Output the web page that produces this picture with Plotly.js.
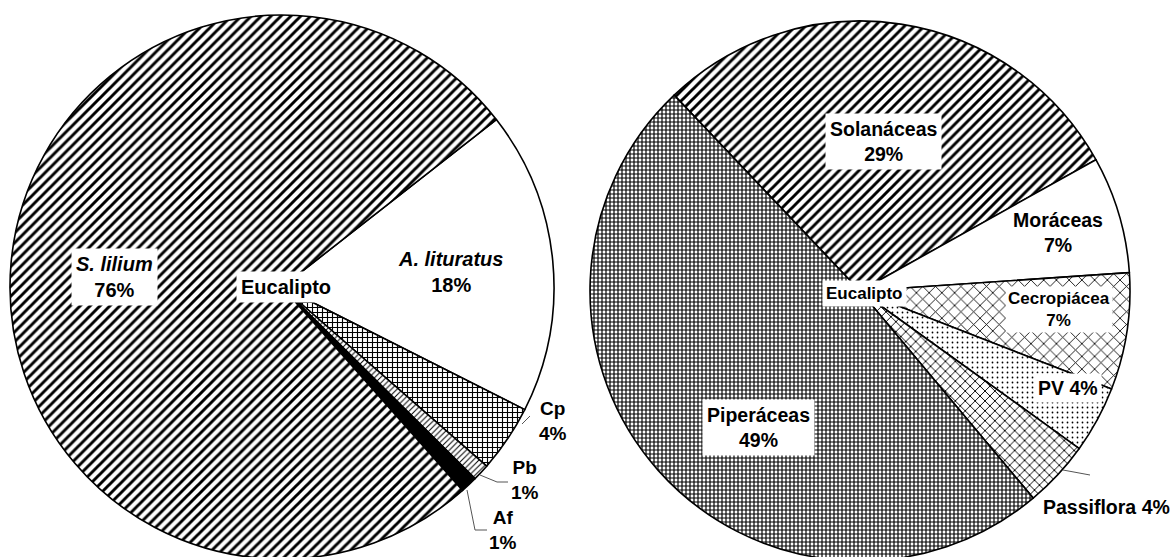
<!DOCTYPE html>
<html>
<head>
<meta charset="utf-8">
<script src="https://cdn.plot.ly/plotly-3.0.1.min.js"></script>
<style>
html,body{margin:0;padding:0;overflow:hidden;background:#fff;}
#chart{width:1172px;height:600px;}
</style>
</head>
<body>
<div id="chart"></div>
<script>
// ---- data ----
const centerTitle = 'Eucalipto';
const leftLabels = ['A. lituratus', 'Cp', 'Pb', 'Af', 'S. lilium'];
const leftValues = [18, 4, 1, 1, 76];
const leftItalic = [true, false, false, false, true];
const rightLabels = ['Solanáceas', 'Moráceas', 'Cecropiácea', 'PV', 'Passiflora', 'Piperáceas'];
const rightValues = [29, 7, 7, 4, 4, 49];

// ---- layout helpers (pixel -> paper) ----
const W = 1172, H = 600;
const px = x => x / W;
const py = y => 1 - y / H;

// label placement (pixel centres) and styling
const leftLabelPos = [[450, 272], [553, 421], [525, 480], [503, 530], [114, 277]];
const leftLabelBox = [false, false, false, false, true];
const leftLabelSize = [20, 19, 19, 19, 20];
const rightLabelPos = [[883, 141], [1058, 233], [1059, 309], [1068, 388], [1106, 507], [758, 427]];
const rightLabelBox = [true, false, true, true, false, true];
const rightLabelSize = [19.5, 19.5, 17, 19.5, 19.5, 19.5];
const rightLabelPad = [4, 0, 2, 3, 0, 4];
const rightOneLine = [false, false, false, true, true, false];

const lineStyle = {color: '#000', width: 1.6};

const leftPatterns = [
  {shape: ''},
  {shape: '+', size: 5, solidity: 0.4},
  {shape: '/', size: 4, solidity: 0.25},
  {shape: ''},
  {shape: '/', size: 7, solidity: 0.42}
];
const leftColors = ['#ffffff', '#ffffff', '#ffffff', '#000000', '#ffffff'];

const rightPatterns = [
  {shape: '/', size: 7, solidity: 0.42},
  {shape: ''},
  {shape: 'x', size: 9, solidity: 0.18},
  {shape: '.', size: 5, solidity: 0.1},
  {shape: 'x', size: 7, solidity: 0.25},
  {shape: '+', size: 4, solidity: 0.5}
];

const traces = [
  {
    type: 'pie', labels: leftLabels, values: leftValues, sort: false,
    direction: 'clockwise', rotation: 52, textinfo: 'none', hoverinfo: 'label+percent',
    domain: {x: [px(10), px(554)], y: [py(559), py(15)]},
    marker: {colors: leftColors, line: lineStyle,
      pattern: {
        shape: leftPatterns.map(p => p.shape),
        size: leftPatterns.map(p => p.size || 8),
        solidity: leftPatterns.map(p => p.solidity || 0.3),
        fgcolor: '#000', bgcolor: '#fff'
      }},
    showlegend: false
  },
  {
    type: 'pie', labels: rightLabels, values: rightValues, sort: false,
    direction: 'clockwise', rotation: 316.5, textinfo: 'none', hoverinfo: 'label+percent',
    domain: {x: [px(590), px(1130)], y: [py(561), py(21)]},
    marker: {colors: rightLabels.map(() => '#ffffff'), line: lineStyle,
      pattern: {
        shape: rightPatterns.map(p => p.shape),
        size: rightPatterns.map(p => p.size || 8),
        solidity: rightPatterns.map(p => p.solidity || 0.3),
        fgcolor: '#000', bgcolor: '#fff'
      }},
    showlegend: false
  }
];

const font = (s) => ({family: 'Liberation Sans, Arial, sans-serif', size: s, color: '#000', weight: 'bold'});

const annotations = [];
leftLabels.forEach((lab, i) => {
  const name = leftItalic[i] ? '<i>' + lab + '</i>' : lab;
  annotations.push({
    xref: 'paper', yref: 'paper', x: px(leftLabelPos[i][0]), y: py(leftLabelPos[i][1]),
    xanchor: 'center', yanchor: 'middle', showarrow: false,
    text: name + '<br>' + leftValues[i] + '%', font: font(leftLabelSize[i]),
    bgcolor: leftLabelBox[i] ? '#fff' : 'rgba(0,0,0,0)', borderpad: leftLabelBox[i] ? 4 : 0
  });
});
rightLabels.forEach((lab, i) => {
  annotations.push({
    xref: 'paper', yref: 'paper', x: px(rightLabelPos[i][0]), y: py(rightLabelPos[i][1]),
    xanchor: 'center', yanchor: 'middle', showarrow: false,
    text: lab + (rightOneLine[i] ? ' ' : '<br>') + rightValues[i] + '%', font: font(rightLabelSize[i]),
    bgcolor: rightLabelBox[i] ? '#fff' : 'rgba(0,0,0,0)', borderpad: rightLabelPad[i]
  });
});
// centre titles
annotations.push({xref: 'paper', yref: 'paper', x: px(286), y: py(287), showarrow: false,
  xanchor: 'center', yanchor: 'middle',
  text: centerTitle, font: font(20), bgcolor: '#fff', borderpad: 4});
annotations.push({xref: 'paper', yref: 'paper', x: px(864), y: py(293), showarrow: false,
  xanchor: 'center', yanchor: 'middle',
  text: centerTitle, font: font(17), bgcolor: '#fff', borderpad: 3});

// leader lines
const leader = (pts) => ({type: 'path', xref: 'paper', yref: 'paper',
  path: 'M' + pts.map(p => px(p[0]) + ',' + py(p[1])).join(' L'),
  line: {color: '#555', width: 1}});
const shapes = [
  leader([[522, 424], [530, 416]]),
  leader([[480, 475], [497, 482], [508, 482]]),
  leader([[467, 490], [475, 530], [487, 530]]),
  leader([[1063, 470], [1090, 475]])
];

Plotly.newPlot('chart', traces, {
  width: W, height: H, margin: {l: 0, r: 0, t: 0, b: 0},
  paper_bgcolor: '#fff', plot_bgcolor: '#fff',
  annotations: annotations, shapes: shapes, showlegend: false
}, {displayModeBar: false, staticPlot: true});
</script>
</body>
</html>
